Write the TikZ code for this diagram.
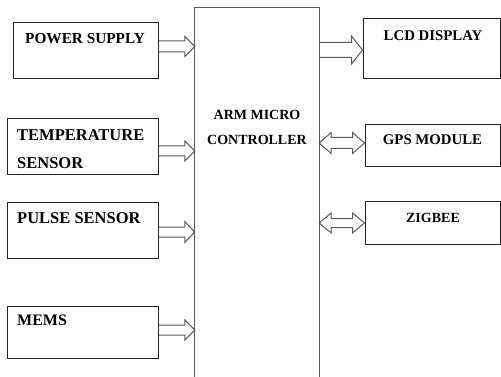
\documentclass[tikz,border=0pt]{standalone}
\usepackage{fontspec}
\setmainfont{Liberation Serif}
\usetikzlibrary{calc}

\definecolor{boxgray}{HTML}{222222}
\definecolor{linegray}{HTML}{595959}

\tikzset{
  box/.style={draw=boxgray, line width=1pt, inner sep=0pt},
  lbl/.style 2 args={inner sep=0pt, font=\bfseries\fontsize{#1}{#2}\selectfont},
  fat/.style n args={3}{draw=linegray, line width=1pt, to path={
    ($(\tikztostart)+(0,-#1)$) -- ($(\tikztotarget)+(-#3,-#1)$) -- ($(\tikztotarget)+(-#3,-#2)$)
    -- (\tikztotarget) -- ($(\tikztotarget)+(-#3,#2)$) -- ($(\tikztotarget)+(-#3,#1)$) -- ($(\tikztostart)+(0,#1)$)}},
  dfat/.style n args={3}{draw=linegray, line width=1pt, to path={
    (\tikztostart) -- ($(\tikztostart)+(#3,-#2)$) -- ($(\tikztostart)+(#3,-#1)$)
    -- ($(\tikztotarget)+(-#3,-#1)$) -- ($(\tikztotarget)+(-#3,-#2)$) -- (\tikztotarget)
    -- ($(\tikztotarget)+(-#3,#2)$) -- ($(\tikztotarget)+(-#3,#1)$) -- ($(\tikztostart)+(#3,#1)$)
    -- ($(\tikztostart)+(#3,#2)$) -- cycle}}
}

\begin{document}
\begin{tikzpicture}[x=1pt, y=-1pt]
    \useasboundingbox (0,0) rectangle (501,377);

    % 左边的输入模块
    \node (pwr) [box, minimum width=145, minimum height=56] at (85.5,51) {};
    \node (temp) [box, minimum width=151, minimum height=56] at (82.5,147) {};
    \node (pulse) [box, minimum width=151, minimum height=55] at (82.5,230.5) {};
    \node (mems) [box, minimum width=151, minimum height=52] at (82.5,332) {};

    \node (pwrtxt) [lbl={15.3}{18}, anchor=west] at (25,39) {POWER SUPPLY};
    \node (temptxt) [lbl={16.5}{28}, anchor=west, align=left] at (17,149) {TEMPERATURE\\SENSOR};
    \node (pulsetxt) [lbl={16.5}{19}, anchor=west] at (17,218) {PULSE SENSOR};
    \node (memstxt) [lbl={16}{19}, anchor=west] at (17,320) {MEMS};

    % 中间的控制器 (下边出界)
    \node (arm) [minimum width=124, minimum height=384, inner sep=0pt] at (257,200) {};
    \draw[draw=linegray, line width=1.3pt] (arm.south west) |- (arm.north east) -- (arm.south east);
    \node (armtxt) [lbl={14}{25}, align=center] at (257,127.5) {ARM MICRO\\CONTROLLER};

    % 右边的输出模块
    \node (lcd) [box, minimum width=137, minimum height=60] at (431.5,49) {};
    \node (gps) [box, minimum width=135, minimum height=42] at (432.5,146) {};
    \node (zig) [box, minimum width=135, minimum height=42] at (432.5,223) {};

    \node (lcdtxt) [lbl={14.8}{18}] at (433,36) {LCD DISPLAY};
    \node (gpstxt) [lbl={14.8}{18}] at (432.5,140) {GPS MODULE};
    \node (zigtxt) [lbl={14}{18}] at (433,218) {ZIGBEE};

    % 空心箭头
    \draw[fat={5.5}{10}{10}] (pwr.east |- 0,46.5) to (arm.west |- 0,46.5);
    \draw[fat={5}{10}{10}] (temp.east |- 0,151) to (arm.west |- 0,151);
    \draw[fat={5}{10.5}{10}] (pulse.east |- 0,232) to (arm.west |- 0,232);
    \draw[fat={5}{10}{10}] (mems.east |- 0,330) to (arm.west |- 0,330);
    \draw[fat={7.5}{14}{11}] (arm.east |- 0,50) to (lcd.west |- 0,50);
    \draw[dfat={5.5}{10.5}{12}] (arm.east |- 0,143) to (gps.west |- 0,143);
    \draw[dfat={4.5}{10}{12}] (arm.east |- 0,223) to (zig.west |- 0,223);

\end{tikzpicture}
\end{document}
